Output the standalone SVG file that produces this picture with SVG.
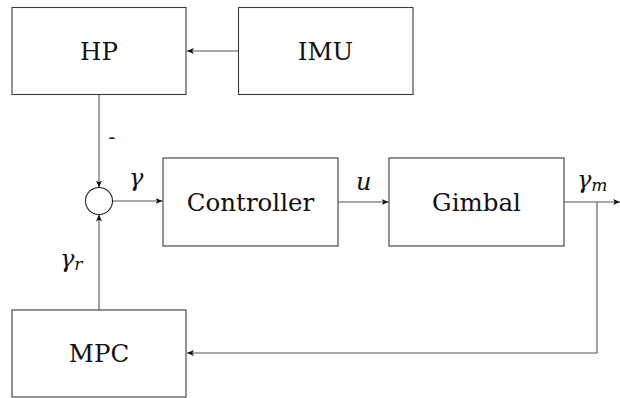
<svg xmlns="http://www.w3.org/2000/svg" width="620" height="398" viewBox="0 0 620 398">
  <style>
    .box { fill: #ffffff; stroke: #3a3a3a; stroke-width: 1.1; }
    .lbl { font-family: "DejaVu Serif", serif; font-size: 24.5px; fill: #111; text-anchor: middle; dominant-baseline: central; }
    .math { font-family: "DejaVu Serif", serif; font-style: italic; font-size: 24px; fill: #111; }
    .sub { font-size: 17px; }
    .wire { fill: none; stroke: #555; stroke-width: 1.1; marker-end: url(#tip); }
  </style>
  <defs>
    <marker id="tip" markerUnits="userSpaceOnUse" markerWidth="8" markerHeight="7" refX="7" refY="3.5" orient="auto">
      <path d="M0,0.5 L7,3.5 L0,6.5 L1.8,3.5 Z" fill="#111"/>
    </marker>
  </defs>

  <!-- connectors and their signal labels -->
  <g id="connectors">
    <path class="wire" d="M238,51 H187"/>
    <path class="wire" d="M99,94 V187.5"/>
    <path class="wire" d="M99,310 V214.5"/>
    <path class="wire" d="M112.5,201 H162.5"/>
    <path class="wire" d="M338,202 H388.5"/>
    <path class="wire" d="M564,202 H620"/>
    <path class="wire" d="M597,202 V353 H187"/>
    <text class="math" x="108.5" y="144" style="font-style:normal;font-size:20px">-</text>
    <text class="math" x="129" y="186">γ</text>
    <text class="math" x="356" y="190">u</text>
    <text class="math" x="577" y="188">γ<tspan class="sub" dy="3">m</tspan></text>
    <text class="math" x="60" y="267">γ<tspan class="sub" dy="3">r</tspan></text>
  </g>

  <g id="hp">
    <rect class="box" x="12" y="7.5" width="174" height="87"/>
    <text class="lbl" x="99" y="51">HP</text>
  </g>
  <g id="imu">
    <rect class="box" x="238.5" y="7.5" width="174.5" height="87"/>
    <text class="lbl" x="325.5" y="51">IMU</text>
  </g>
  <g id="sum">
    <circle cx="99" cy="201" r="13.5" fill="#fff" stroke="#222" stroke-width="1.1"/>
  </g>
  <g id="controller">
    <rect class="box" x="163" y="158" width="175" height="88"/>
    <text class="lbl" x="250.5" y="202">Controller</text>
  </g>
  <g id="gimbal">
    <rect class="box" x="389" y="158" width="175" height="88"/>
    <text class="lbl" x="476.5" y="202">Gimbal</text>
  </g>
  <g id="mpc">
    <rect class="box" x="12" y="310" width="174" height="87"/>
    <text class="lbl" x="99" y="353">MPC</text>
  </g>
</svg>
